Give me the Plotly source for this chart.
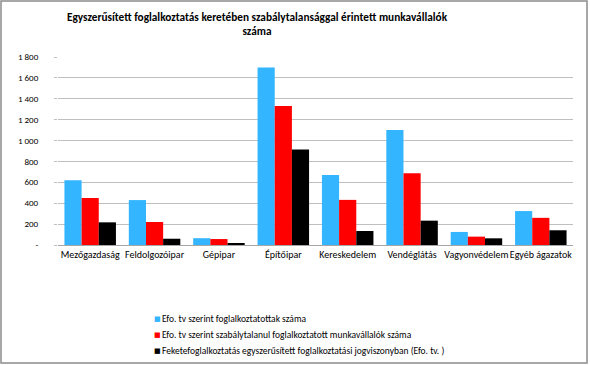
import plotly.graph_objects as go

categories = ["Mezőgazdaság", "Feldolgozóipar", "Gépipar", "Építőipar",
              "Kereskedelem", "Vendéglátás", "Vagyonvédelem", "Egyéb ágazatok"]
series_names = [
    "Efo. tv szerint foglalkoztatottak száma",
    "Efo. tv szerint szabálytalanul foglalkoztatott munkavállalók száma",
    "Feketefoglalkoztatás egyszerűsített foglalkoztatási jogviszonyban (Efo. tv. )",
]
s1 = [620, 430, 65, 1700, 670, 1100, 125, 325]
s2 = [450, 220, 57, 1330, 432, 688, 80, 260]
s3 = [217, 60, 19, 915, 134, 233, 64, 141]
colors = ["#33B5FF", "#FF0000", "#000000"]
tickvals = [0, 200, 400, 600, 800, 1000, 1200, 1400, 1600, 1800]
ticktext = ["-", "200", "400", "600", "800", "1 000", "1 200", "1 400", "1 600", "1 800"]

FONT = "Carlito, Lato, Liberation Sans"

W, H = 590, 365
ml, mr, mt, mb = 58, 17, 57, 120
pw, ph = W - ml - mr, H - mt - mb


def px_x(p):
    return (p - ml) / pw


def px_y(q):
    return (H - mb - q) / ph


fig = go.Figure()
for name, vals, c in zip(series_names, [s1, s2, s3], colors):
    fig.add_trace(go.Bar(x=categories, y=vals, name=name, marker_color=c,
                         marker_line_width=0, showlegend=False))

fig.update_layout(
    width=W, height=H,
    margin=dict(l=ml, r=mr, t=mt, b=mb, autoexpand=False),
    paper_bgcolor="white", plot_bgcolor="white",
    font=dict(family=FONT, size=10, color="#000000"),
    title=dict(text="<b>Egyszerűsített foglalkoztatás keretében szabálytalansággal érintett munkavállalók<br>száma</b>",
               x=257 / W, xanchor="center", y=0.943, yanchor="top",
               font=dict(family=FONT, size=11.3, color="#000000")),
    barmode="group", bargap=0.2, bargroupgap=0,
    xaxis=dict(showgrid=False, showline=True, linecolor="#A6A6A6", linewidth=1,
               ticks="", tickangle=0, tickfont=dict(size=10), automargin=False),
    yaxis=dict(range=[0, 1800], tickvals=tickvals, ticktext=ticktext,
               showgrid=True, gridcolor="#BFBFBF", gridwidth=1,
               showline=False, zeroline=False, ticks="outside", ticklen=3,
               tickcolor="#BFBFBF", tickfont=dict(size=9), ticklabelstandoff=14,
               automargin=False),
)

# legend drawn as colored squares + labels
legend_rows = [319, 335, 351]
for name, c, row in zip(series_names, colors, legend_rows):
    fig.add_annotation(xref="paper", yref="paper", x=px_x(152), y=px_y(row),
                       xanchor="left", yanchor="middle", text="■", showarrow=False,
                       font=dict(family="DejaVu Sans", size=7, color=c))
    fig.add_annotation(xref="paper", yref="paper", x=px_x(160), y=px_y(row),
                       xanchor="left", yanchor="middle", text=name, showarrow=False,
                       font=dict(family=FONT, size=9.5, color="#000000"))

# outer chart frame
fig.add_shape(type="rect", xref="paper", yref="paper",
              x0=px_x(1), x1=px_x(587), y0=px_y(363), y1=px_y(1),
              line=dict(color="#8C8C8C", width=1.5), fillcolor="rgba(0,0,0,0)")

fig.write_html("out.html", config={"displayModeBar": False},
               post_script="document.body.style.margin='0';document.body.style.padding='0';")
